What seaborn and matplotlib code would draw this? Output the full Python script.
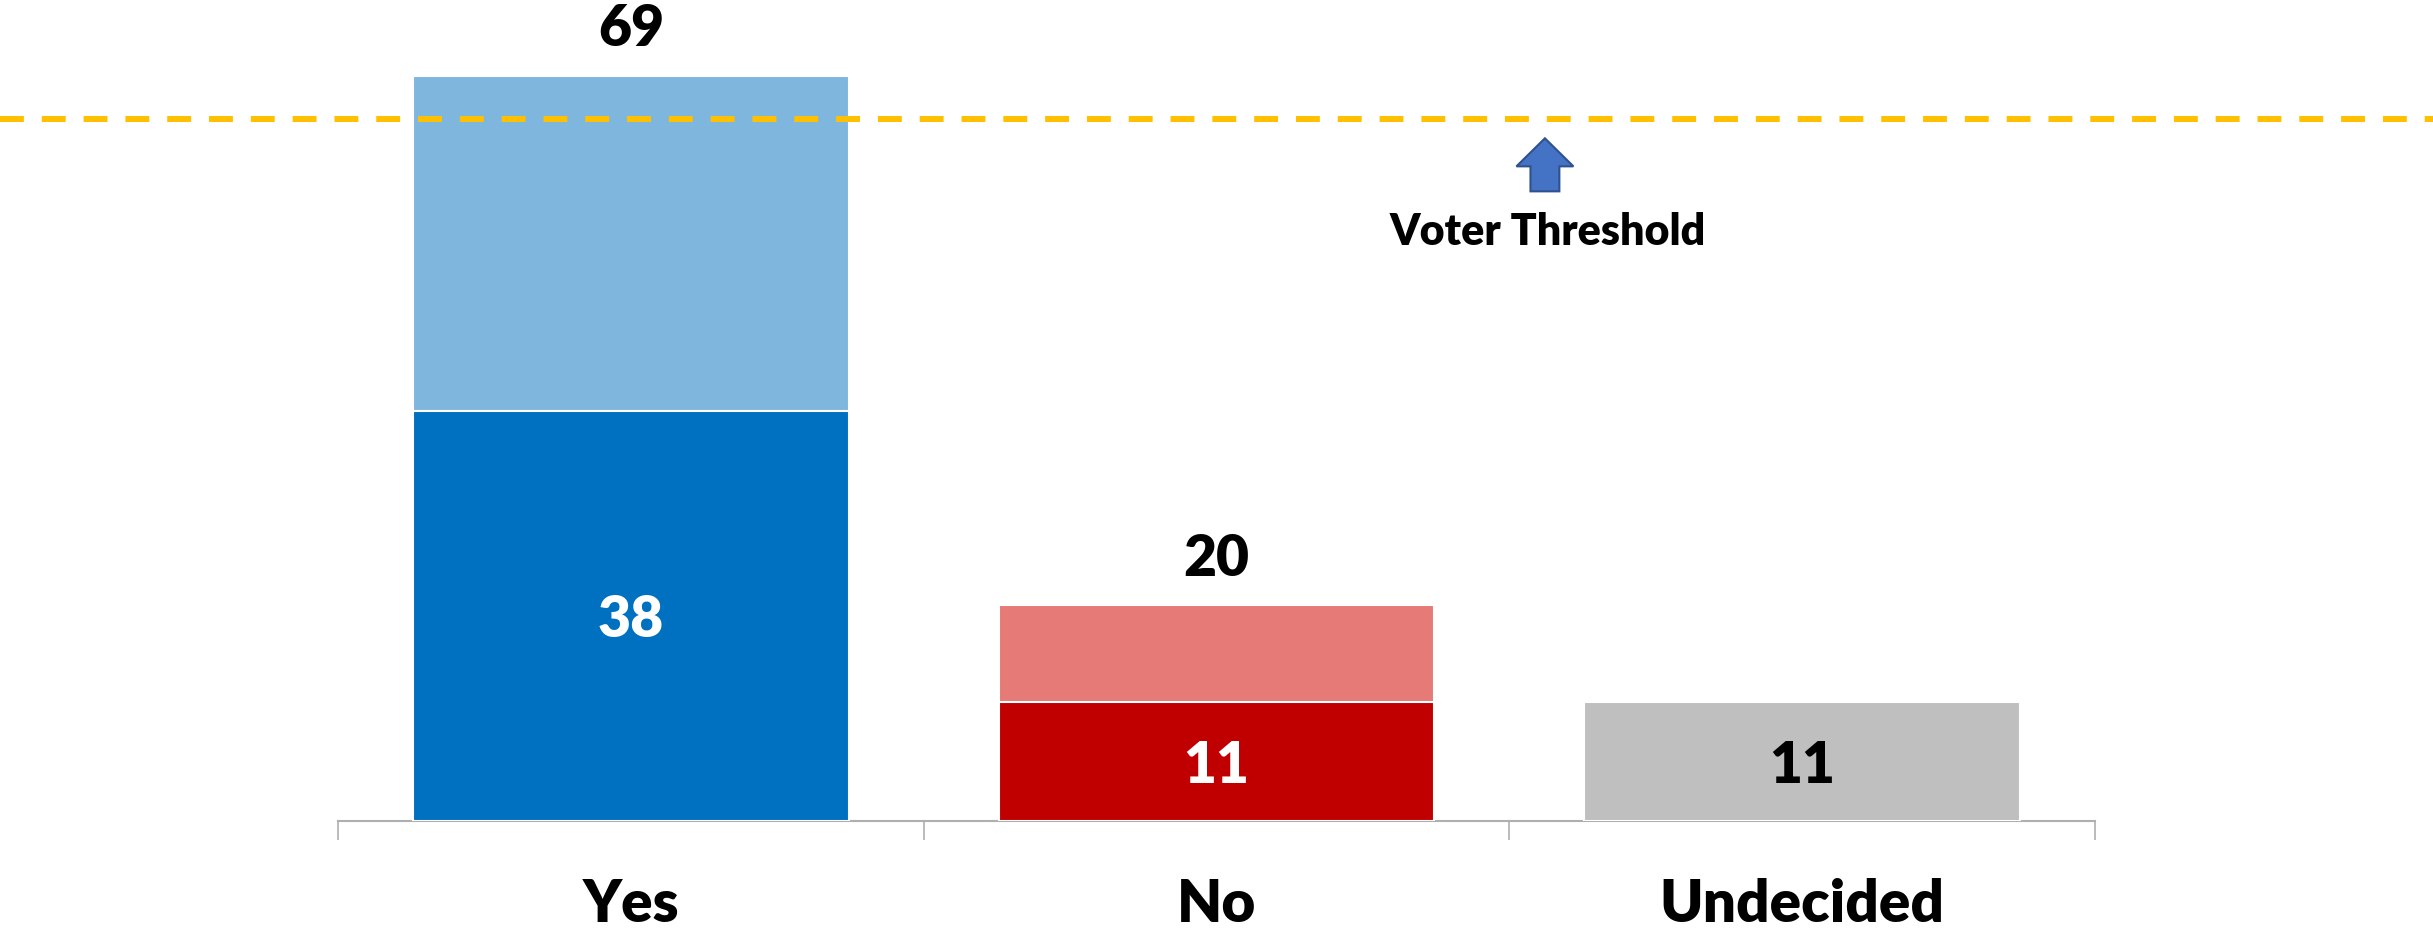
import matplotlib
matplotlib.use("Agg")
import matplotlib.pyplot as plt
import seaborn as sns
import pandas as pd
from matplotlib.patches import Polygon
from matplotlib.transforms import Affine2D, ScaledTranslation

categories = ["Yes", "No", "Undecided"]
base_values = [38, 11, 11]
extra_values = [31, 9, 0]
total_values = [b + e for b, e in zip(base_values, extra_values)]
threshold = 65
threshold_label = "Voter Threshold"
base_colors = ["#0070C0", "#C00000", "#BFBFBF"]
extra_colors = ["#7FB6DE", "#E57A77", "#BFBFBF"]
base_label_colors = ["white", "white", "black"]
show_total = [True, True, False]

sns.set_theme(style="white")
plt.rcParams["font.family"] = ["Lato", "DejaVu Sans"]

fig = plt.figure(figsize=(24.33, 9.32), dpi=100)
ax = fig.add_axes([0, 0.119, 1, 0.881])

df = pd.DataFrame({"cat": categories, "base": base_values, "total": total_values})
sns.barplot(data=df, x="cat", y="total", hue="cat", palette=extra_colors,
            width=0.744, edgecolor="white", linewidth=1.5, legend=False,
            saturation=1, ax=ax, zorder=2)
sns.barplot(data=df, x="cat", y="base", hue="cat", palette=base_colors,
            width=0.744, edgecolor="white", linewidth=1.5, legend=False,
            saturation=1, ax=ax, zorder=3)

ax.set_xlim(-1.078, 3.078)
ax.set_ylim(0, 76.0)

# threshold line
ax.axhline(threshold, color="#FFC000", lw=4.3, dashes=(4, 3),
           solid_capstyle="butt", dash_capstyle="butt", zorder=5)

# spines / ticks
for s in ["left", "right", "top"]:
    ax.spines[s].set_visible(False)
ax.spines["bottom"].set_bounds(-0.5, len(categories) - 0.5)
ax.spines["bottom"].set_color("#AFAFAF")
ax.spines["bottom"].set_linewidth(1.5)
ax.set_xticks([])
ax.set_xticks([i - 0.5 for i in range(len(categories) + 1)], minor=True)
ax.tick_params(axis="x", which="minor", bottom=True, length=13.7, width=1.2,
               color="#AFAFAF", labelbottom=False)
ax.set_yticks([])
ax.set_xlabel("")
ax.set_ylabel("")

WEIGHT = "heavy"

# category labels
for i, c in enumerate(categories):
    ax.annotate(c, xy=(i, 0), xytext=(0, -72.7), textcoords="offset points",
                ha="center", va="baseline", fontsize=42, fontweight=WEIGHT,
                color="black", annotation_clip=False)

# value labels
for i in range(len(categories)):
    ax.annotate(str(base_values[i]), xy=(i, base_values[i] / 2), xytext=(0, -15.5),
                textcoords="offset points", ha="center", va="baseline",
                fontsize=41, fontweight=WEIGHT, color=base_label_colors[i], zorder=6)
    if show_total[i]:
        ax.annotate(str(total_values[i]), xy=(i, total_values[i]), xytext=(0, 21),
                    textcoords="offset points", ha="center", va="baseline",
                    fontsize=41, fontweight=WEIGHT, color="black", zorder=6)

# threshold annotation: block arrow shaped in points, anchored at its tip
arrow_shape = [(0, 0), (20.5, -20.2), (10.4, -20.2), (10.4, -38.2),
               (-10.4, -38.2), (-10.4, -20.2), (-20.5, -20.2)]
arrow_tf = Affine2D().scale(fig.dpi / 72.0) + ScaledTranslation(1.561, threshold - 1.8, ax.transData)
ax.add_patch(Polygon(arrow_shape, closed=True, transform=arrow_tf,
                     facecolor="#4472C4", edgecolor="#2F528F", linewidth=1.5, zorder=6))
ax.text(1.566, threshold - 11.7, threshold_label, ha="center", va="baseline",
        fontsize=31, fontweight=WEIGHT, color="black")

fig.savefig("out.png", dpi=100)
